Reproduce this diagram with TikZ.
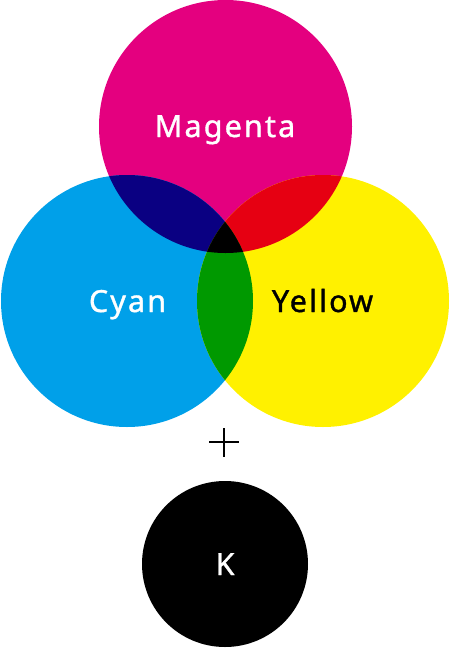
\documentclass[tikz,border=0pt]{standalone}
\usepackage{fontspec}
\setmainfont{Noto Sans}
\newfontfamily\lblfont[LetterSpace=7,FakeBold=1.2]{Noto Sans}
\definecolor{cyanc}{RGB}{0,160,233}
\definecolor{magc}{RGB}{228,0,127}
\definecolor{yelc}{RGB}{255,241,0}
\definecolor{bluec}{RGB}{10,0,130}
\definecolor{redc}{RGB}{230,0,18}
\definecolor{greenc}{RGB}{0,153,0}
\begin{document}
\begin{tikzpicture}[x=1pt,y=-1pt,
  disc/.style={circle, inner sep=0pt, draw=none},
  lbl/.style={font=\lblfont\fontsize{30.5}{30.5}\selectfont, inner sep=0pt, anchor=base}]
\useasboundingbox (0,0) rectangle (450,648);
% primary discs
\node[disc, fill=magc, minimum size=253pt] (M) at (225.5,126.5) {};
\node[disc, fill=cyanc, minimum size=252pt] (C) at (127,301) {};
\node[disc, fill=yelc, minimum size=252pt] (Y) at (323,301) {};
% pairwise overlaps
\begin{scope}
  \clip (C.center) circle (126pt);
  \fill[bluec] (M.center) circle (126.5pt);
\end{scope}
\begin{scope}
  \clip (Y.center) circle (126pt);
  \fill[redc] (M.center) circle (126.5pt);
\end{scope}
\begin{scope}
  \clip (Y.center) circle (126pt);
  \fill[greenc] (C.center) circle (126pt);
\end{scope}
\begin{scope}
  \clip (Y.center) circle (126pt);
  \clip (C.center) circle (126pt);
  \fill[black] (M.center) circle (126.5pt);
\end{scope}
% labels
\node[lbl, text=white] (Mt) at (225,137) {Magenta};
\node[lbl, text=white] (Ct) at (127.5,312) {Cyan};
\node[lbl, text=black] (Yt) at (322.5,312) {Yellow};
% plus sign
\coordinate (pl) at (209,442);
\coordinate (pr) at (239,442);
\coordinate (pt) at (224,428);
\coordinate (pb) at (224,457);
\draw[line width=2.6pt] (pl) -- (pr);
\draw[line width=2.6pt] (pt) -- (pb);
% black disc
\node[disc, fill=black, minimum size=166pt] (K) at (225,564) {};
\node[lbl, text=white] (Kt) at (225,575) {K};
\end{tikzpicture}
\end{document}
